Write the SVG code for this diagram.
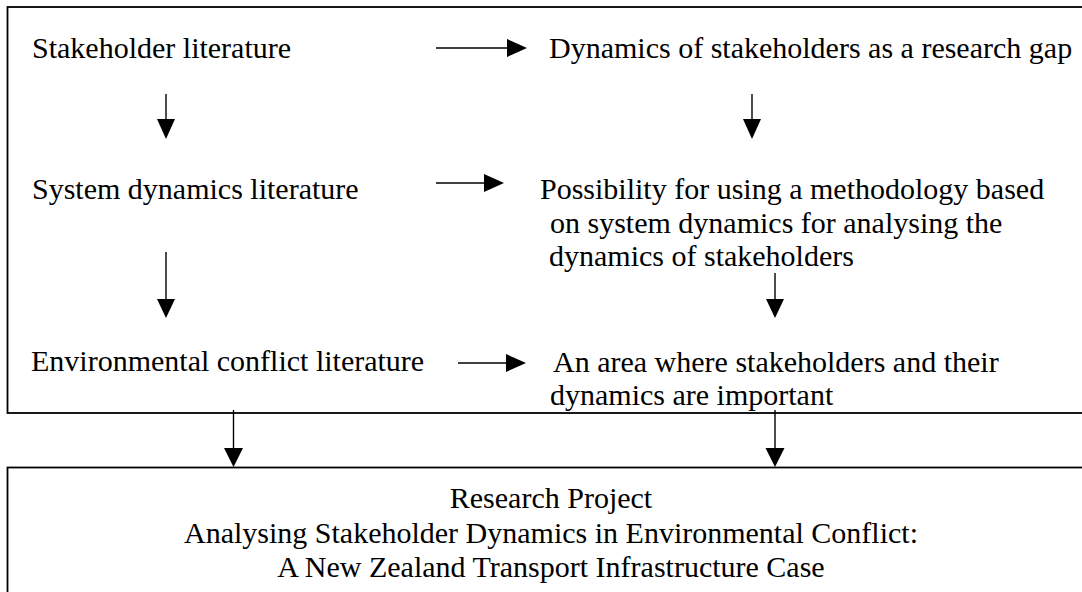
<svg xmlns="http://www.w3.org/2000/svg" width="1082" height="592" viewBox="0 0 1082 592">
<style>
.box{fill:none;stroke:#000;stroke-width:1.8}
.t{font-family:"Liberation Serif","Times New Roman",serif;font-size:30px;fill:#000}
.c{text-anchor:middle}
.ln{stroke:#000;stroke-width:1.4;fill:none}
.hd{fill:#000}
</style>
<rect width="1082" height="592" fill="#fff"/>
<g id="frame-top"><rect class="box" x="7.5" y="7" width="1090" height="406"/></g>
<g id="n-stakeholder"><text class="t" x="32" y="58">Stakeholder literature</text></g>
<g id="n-gap"><text class="t" x="549" y="58">Dynamics of stakeholders as a research gap</text></g>
<g id="n-sd"><text class="t" x="32" y="199">System dynamics literature</text></g>
<g id="n-possibility"><text class="t" x="540" y="199">Possibility for using a methodology based</text><text class="t" x="550" y="233">on system dynamics for analysing the</text><text class="t" x="549" y="266">dynamics of stakeholders</text></g>
<g id="n-env"><text class="t" x="31" y="371">Environmental conflict literature</text></g>
<g id="n-area"><text class="t" x="553" y="372">An area where stakeholders and their</text><text class="t" x="550" y="405">dynamics are important</text></g>
<g id="n-project"><rect class="box" x="7.5" y="467.5" width="1090" height="200"/><text class="t c" x="551" y="508">Research Project</text><text class="t c" x="551" y="543">Analysing Stakeholder Dynamics in Environmental Conflict:</text><text class="t c" x="551" y="577">A New Zealand Transport Infrastructure Case</text></g>
<g id="connectors">
<line class="ln" x1="436" y1="48" x2="510" y2="48"/><polygon class="hd" points="507,39 527,48 507,57"/>
<line class="ln" x1="436" y1="183" x2="487" y2="183"/><polygon class="hd" points="484,174 504,183 484,192"/>
<line class="ln" x1="458" y1="363" x2="509" y2="363"/><polygon class="hd" points="506,354 526,363 506,372"/>
<line class="ln" x1="166" y1="94" x2="166" y2="122"/><polygon class="hd" points="157,119 175,119 166,139"/>
<line class="ln" x1="752" y1="94" x2="752" y2="122"/><polygon class="hd" points="743,119 761,119 752,139"/>
<line class="ln" x1="166" y1="252" x2="166" y2="302"/><polygon class="hd" points="157,299 175,299 166,318"/>
<line class="ln" x1="775" y1="273" x2="775" y2="302"/><polygon class="hd" points="766,299 784,299 775,318"/>
<line class="ln" x1="233.5" y1="410" x2="233.5" y2="451"/><polygon class="hd" points="224,448 243,448 233.5,467"/>
<line class="ln" x1="775" y1="410" x2="775" y2="451"/><polygon class="hd" points="765.5,448 784.5,448 775,467"/>
</g>
</svg>
